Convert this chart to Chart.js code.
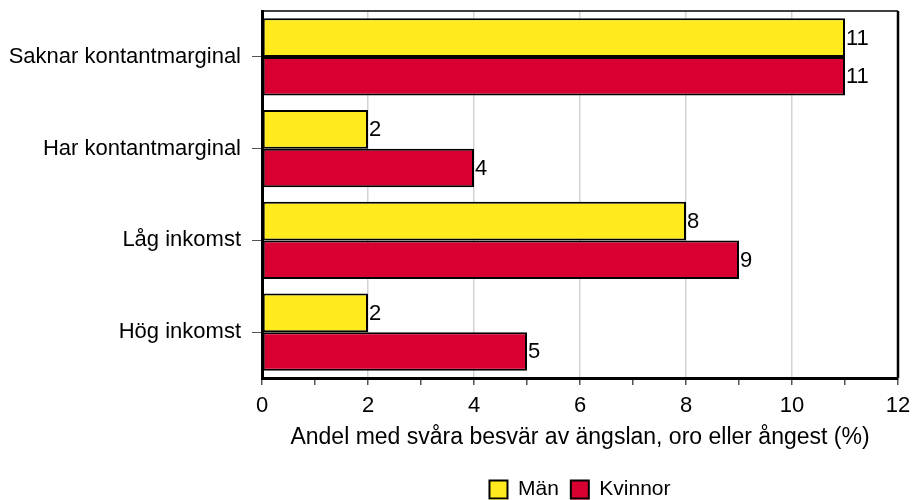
<!DOCTYPE html>
<html>
<head>
<meta charset="utf-8">
<script src="https://cdn.jsdelivr.net/npm/chart.js@4.4.1/dist/chart.umd.min.js"></script>
<style>
  html, body { margin: 0; padding: 0; background: #fff; }
  #wrap { width: 914px; height: 500px; }
</style>
</head>
<body>
<div id="wrap"><canvas id="chart"></canvas></div>
<script>
// kategorier och värden (%)
var categories = ['Saknar kontantmarginal', 'Har kontantmarginal', 'Låg inkomst', 'Hög inkomst'];
var man = [11, 2, 8, 2];
var kvinnor = [11, 4, 9, 5];
var xTicks = [0, 2, 4, 6, 8, 10, 12];
var xTitle = 'Andel med svåra besvär av ängslan, oro eller ångest (%)';

var FONT = "'Liberation Sans', Arial, sans-serif";

// ram runt diagramytan (topp och höger)
var framePlugin = {
    id: 'frame',
    afterDraw: function (chart) {
        var a = chart.chartArea;
        var ctx = chart.ctx;
        ctx.save();
        ctx.strokeStyle = '#000';
        ctx.lineWidth = 1.5;
        ctx.beginPath();
        ctx.moveTo(a.left, a.top);
        ctx.lineTo(a.right, a.top);
        ctx.stroke();
        ctx.lineWidth = 2.5;
        ctx.beginPath();
        ctx.moveTo(a.right, a.top);
        ctx.lineTo(a.right, a.bottom);
        ctx.stroke();

        // färgat streck under legendrutorna
        var lg = chart.legend;
        if (lg && lg.legendHitBoxes) {
            lg.legendHitBoxes.forEach(function (hb, i) {
                ctx.fillStyle = chart.data.datasets[i].backgroundColor;
                var y = hb.top + hb.height / 2 + 9 + 1;
                ctx.fillRect(hb.left, y, 18, 3);
            });
        }
        ctx.restore();
    }
};

// värdeetiketter till höger om staplarna
var labelPlugin = {
    id: 'barLabels',
    afterDatasetsDraw: function (chart) {
        var ctx = chart.ctx;
        ctx.save();
        ctx.font = '22px ' + FONT;
        ctx.fillStyle = '#000';
        ctx.textAlign = 'left';
        ctx.textBaseline = 'middle';
        chart.data.datasets.forEach(function (ds, i) {
            chart.getDatasetMeta(i).data.forEach(function (bar, j) {
                ctx.fillText(String(Math.round(ds.data[j])), bar.x + 1, bar.y + 1);
            });
        });
        ctx.restore();
    }
};

new Chart(document.getElementById('chart'), {
    type: 'bar',
    data: {
        labels: categories,
        datasets: [{
            label: 'Män',
            data: man,
            backgroundColor: '#FFEB1E',
            borderColor: '#000',
            borderWidth: 2,
            borderSkipped: false
        }, {
            label: 'Kvinnor',
            data: kvinnor,
            backgroundColor: '#D80030',
            borderColor: '#000',
            borderWidth: 2,
            borderSkipped: false
        }]
    },
    options: {
        indexAxis: 'y',
        responsive: true,
        maintainAspectRatio: false,
        animation: false,
        layout: { padding: { top: 11, right: 16, bottom: -10, left: 0 } },
        datasets: { bar: { categoryPercentage: 0.84, barPercentage: 1 } },
        plugins: {
            legend: {
                position: 'bottom',
                fullSize: false,
                labels: {
                    boxWidth: 18,
                    boxHeight: 18,
                    padding: 12,
                    color: '#000',
                    font: { family: FONT, size: 21 }
                }
            },
            tooltip: { enabled: false }
        },
        scales: {
            x: {
                min: 0,
                max: 12,
                afterBuildTicks: function (scale) {
                    var t = [];
                    for (var v = 0; v <= 12; v++) t.push({ value: v });
                    scale.ticks = t;
                },
                afterFit: function (scale) {
                    scale.paddingLeft = 0;
                    scale.paddingRight = 0;
                },
                ticks: {
                    autoSkip: false,
                    maxRotation: 0,
                    padding: 8,
                    color: '#000',
                    font: { family: FONT, size: 22 },
                    callback: function (v) { return xTicks.indexOf(v) >= 0 ? v : ''; }
                },
                grid: {
                    color: function (c) {
                        return c.tick && xTicks.indexOf(c.tick.value) >= 0 ? '#d4d4d4' : 'rgba(0,0,0,0)';
                    },
                    tickColor: '#555',
                    tickLength: 7,
                    lineWidth: 1.5
                },
                border: { color: '#000', width: 3 },
                title: {
                    display: true,
                    text: xTitle,
                    color: '#000',
                    font: { family: FONT, size: 23 },
                    padding: { top: -4, bottom: 16 }
                }
            },
            y: {
                afterFit: function (scale) {
                    scale.width = 262;
                    scale.paddingTop = 0;
                    scale.paddingBottom = 0;
                },
                ticks: {
                    padding: 11,
                    color: '#000',
                    font: { family: FONT, size: 22 }
                },
                grid: {
                    offset: false,
                    drawOnChartArea: false,
                    tickColor: '#555',
                    tickLength: 10
                },
                border: { color: '#000', width: 3 }
            }
        }
    },
    plugins: [framePlugin, labelPlugin]
});
</script>
</body>
</html>
